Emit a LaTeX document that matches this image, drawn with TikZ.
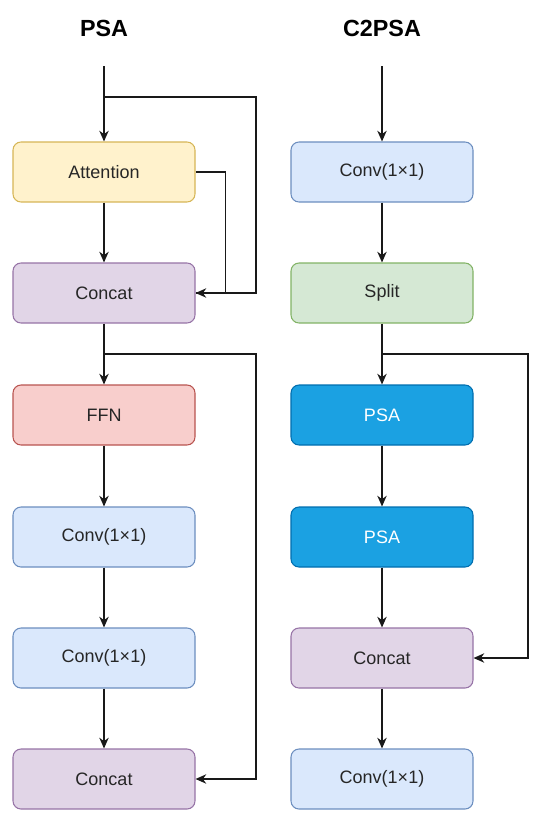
\documentclass[tikz,border=0pt]{standalone}
\usepackage{fontspec}
\setmainfont{Liberation Sans}
\usetikzlibrary{arrows.meta}
\definecolor{yelFill}{HTML}{FFF2CC}\definecolor{yelLine}{HTML}{D6B656}
\definecolor{purFill}{HTML}{E1D5E7}\definecolor{purLine}{HTML}{9673A6}
\definecolor{redFill}{HTML}{F8CECC}\definecolor{redLine}{HTML}{B85450}
\definecolor{bluFill}{HTML}{DAE8FC}\definecolor{bluLine}{HTML}{6C8EBF}
\definecolor{grnFill}{HTML}{D5E8D4}\definecolor{grnLine}{HTML}{82B366}
\definecolor{psaFill}{HTML}{1BA1E2}\definecolor{psaLine}{HTML}{006EAF}
\begin{document}
\begin{tikzpicture}[x=0.75pt, y=-0.75pt,
  block/.style={draw, line width=0.8pt, rounded corners=6pt, minimum width=136.5pt, minimum height=45pt, text=black!85, font=\fontsize{13.5}{16}\selectfont},
  yelbox/.style={block, fill=yelFill, draw=yelLine},
  purbox/.style={block, fill=purFill, draw=purLine},
  redbox/.style={block, fill=redFill, draw=redLine},
  blubox/.style={block, fill=bluFill, draw=bluLine},
  grnbox/.style={block, fill=grnFill, draw=grnLine},
  psabox/.style={block, fill=psaFill, draw=psaLine, text=white},
  title/.style={font=\fontsize{17.5}{21}\selectfont\bfseries},
  arr/.style={-{Stealth[length=8pt, width=7pt, inset=2.5pt]}, line width=1.2pt, black!90},
  wire/.style={line width=1.2pt, black!90}]
\useasboundingbox (0,0) rectangle (550,828);
% titles
\node[title] (tPSA) at (104,28) {PSA};
\node[title] (tC2) at (382,28) {C2PSA};
% PSA column
\coordinate (inL) at (104,66);
\node[yelbox] (att) at (104,172) {Attention};
\node[purbox] (catA) at (104,293) {Concat};
\node[redbox] (ffn) at (104,415) {FFN};
\node[blubox] (convA) at (104,537) {Conv(1×1)};
\node[blubox] (convB) at (104,658) {Conv(1×1)};
\node[purbox] (catB) at (104,779) {Concat};
\coordinate (brA) at (104,97);
\coordinate (brB) at (104,354);
\coordinate (loopL) at (256,0);
\coordinate (loopM) at (225.5,0);
\draw[arr] (inL) -- (att);
\draw[arr] (att) -- (catA);
\draw[arr] (catA) -- (ffn);
\draw[arr] (ffn) -- (convA);
\draw[arr] (convA) -- (convB);
\draw[arr] (convB) -- (catB);
\draw[arr] (brA) -- (brA -| loopL) |- (catA.east);
\draw[wire] (att.east) -- (att.east -| loopM) |- (catA.east);
\draw[arr] (brB) -- (brB -| loopL) |- (catB.east);
% C2PSA column
\coordinate (inR) at (382,66);
\node[blubox] (convC) at (382,172) {Conv(1×1)};
\node[grnbox] (split) at (382,293) {Split};
\node[psabox] (psaA) at (382,415) {PSA};
\node[psabox] (psaB) at (382,537) {PSA};
\node[purbox] (catC) at (382,658) {Concat};
\node[blubox] (convD) at (382,779) {Conv(1×1)};
\coordinate (brC) at (382,354);
\coordinate (loopR) at (528,0);
\draw[arr] (inR) -- (convC);
\draw[arr] (convC) -- (split);
\draw[arr] (split) -- (psaA);
\draw[arr] (psaA) -- (psaB);
\draw[arr] (psaB) -- (catC);
\draw[arr] (catC) -- (convD);
\draw[arr] (brC) -- (brC -| loopR) |- (catC.east);
\end{tikzpicture}
\end{document}
